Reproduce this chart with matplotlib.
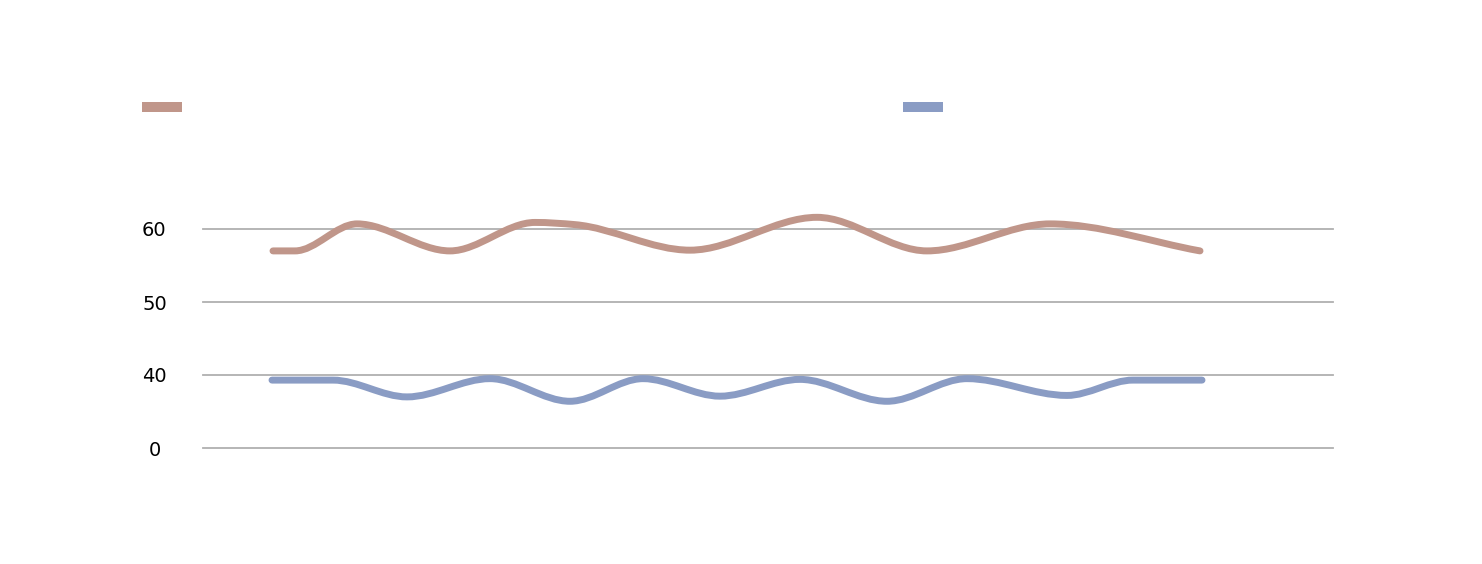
import matplotlib
matplotlib.use("Agg")
import matplotlib.pyplot as plt
from matplotlib.path import Path
from matplotlib.patches import PathPatch
from matplotlib.lines import Line2D

# data (x is position along the axis, y is value)
brown_x = [273, 295, 357, 450, 535, 575, 690, 817, 927, 1050, 1200]
brown_y = [57.0, 57.0, 60.7, 57.0, 60.9, 60.6, 57.1, 61.6, 57.0, 60.7, 57.0]

blue_x = [272, 333, 407, 490, 570, 643, 720, 800, 887, 967, 1067, 1133, 1202]
blue_y = [39.3, 39.3, 37.0, 39.5, 36.4, 39.5, 37.1, 39.4, 36.4, 39.5, 37.2, 39.3, 39.3]

# axis is broken: bottom gridline stands for 0
ytick_pos = [30, 40, 50, 60]
ytick_labels = ["0", "40", "50", "60"]

brown_color = "#c0968a"
blue_color = "#8a9cc4"


def slopes(x, y):
    # monotone (Fritsch-Carlson) tangents, flat at peaks and troughs
    d = [(y[i + 1] - y[i]) / (x[i + 1] - x[i]) for i in range(len(x) - 1)]
    m = [d[0]]
    for i in range(1, len(x) - 1):
        if d[i - 1] * d[i] <= 0:
            m.append(0.0)
        else:
            m.append(2.0 / (1.0 / d[i - 1] + 1.0 / d[i]))
    m.append(d[-1])
    return m


def smooth_path(x, y):
    m = slopes(x, y)
    verts = [(x[0], y[0])]
    codes = [Path.MOVETO]
    for i in range(len(x) - 1):
        h = (x[i + 1] - x[i]) / 3.0
        verts += [(x[i] + h, y[i] + m[i] * h),
                  (x[i + 1] - h, y[i + 1] - m[i + 1] * h),
                  (x[i + 1], y[i + 1])]
        codes += [Path.CURVE4] * 3
    return Path(verts, codes)


fig = plt.figure(figsize=(14.82, 5.64), dpi=100)
ax = fig.add_axes([203 / 1482, (564 - 448) / 564, 1130 / 1482, 34 * 7.3 / 564])
ax.set_xlim(203, 1333)
ax.set_ylim(30, 64)

for xs, ys, c in [(brown_x, brown_y, brown_color), (blue_x, blue_y, blue_color)]:
    patch = PathPatch(smooth_path(xs, ys), facecolor="none", edgecolor=c,
                      linewidth=5, capstyle="round", joinstyle="round",
                      clip_on=False, zorder=3)
    ax.add_patch(patch)

ax.set_yticks(ytick_pos)
ax.set_yticklabels(ytick_labels, fontsize=14, ha="center")
ax.tick_params(axis="y", length=0, pad=35)
ax.set_xticks([])
ax.yaxis.grid(True, color="#b0b0b0", linewidth=1.3)
for gl in ax.get_ygridlines():
    gl.set_clip_on(False)
ax.set_axisbelow(True)
for s in ax.spines.values():
    s.set_visible(False)

# legend keys (no text in the reference)
h1 = Line2D([], [], color=brown_color, linewidth=7.2, solid_capstyle="butt")
h2 = Line2D([], [], color=blue_color, linewidth=7.2, solid_capstyle="butt")
for h, x0 in [(h1, 142), (h2, 903)]:
    fig.legend([h], [""], loc="center left",
               bbox_to_anchor=(x0 / 1482, 1 - 108 / 564),
               frameon=False, borderpad=0, borderaxespad=0,
               handletextpad=0, handlelength=40 / 19.4, fontsize=14)

fig.savefig("out.png", dpi=100)
